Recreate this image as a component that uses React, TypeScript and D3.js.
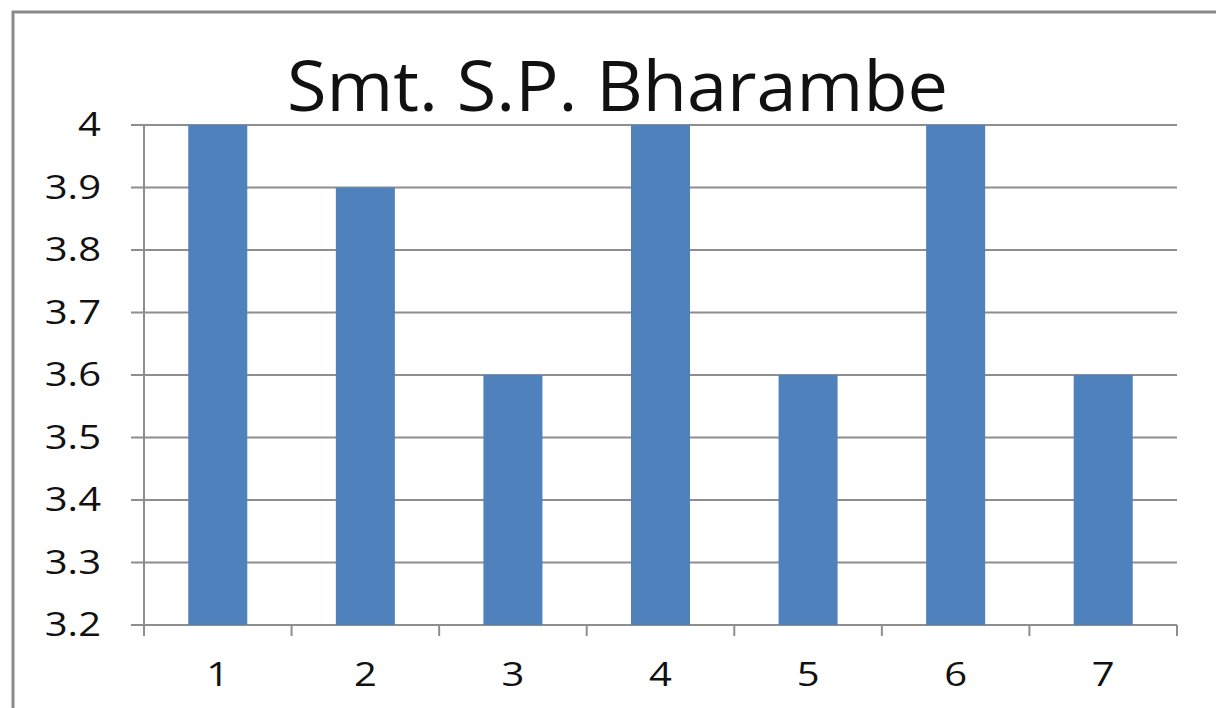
import React from "react";
import * as d3 from "d3";

const categories = ["1", "2", "3", "4", "5", "6", "7"];
const values = [4, 3.9, 3.6, 4, 3.6, 4, 3.6];
const yTicks = [3.2, 3.3, 3.4, 3.5, 3.6, 3.7, 3.8, 3.9, 4];
const title = "Smt. S.P. Bharambe";

export default function App() {
  const W = 1216, H = 708;
  const left = 144, right = 1177, top = 125, bottom = 625;
  const x = d3.scaleBand().domain(categories).range([left, right]).paddingInner(0.6).paddingOuter(0.3);
  const xOuter = d3.scaleBand().domain(categories).range([left, right]);
  const y = d3.scaleLinear().domain([3.2, 4]).range([bottom, top]);
  const grid = "#8e8e8e";
  const font = "'Open Sans', 'Noto Sans', sans-serif";
  const sx = 1.25;
  return (
    <svg width={W} height={H} style={{ position: "absolute", left: 0, top: 0 }}>
      <rect x={0} y={0} width={W} height={H} fill="#fff" />
      <rect x={13} y={12} width={W + 20} height={H + 20} fill="none" stroke="#8a8a8a" strokeWidth={3} />
      <text x={287} y={111} fontFamily={font} fontSize={69} fill="#111" textLength={661} lengthAdjust="spacingAndGlyphs">{title}</text>
      {yTicks.map((t) => (
        <g key={t}>
          <line x1={131} x2={right} y1={y(t)} y2={y(t)} stroke={grid} strokeWidth={2} />
          <g transform={`translate(101,${y(t) + 11}) scale(${sx},1)`}>
            <text x={0} y={0} textAnchor="end" fontFamily={font} fontSize={32} fill="#111">{t === 4 ? "4" : t.toFixed(1)}</text>
          </g>
        </g>
      ))}
      <line x1={left} x2={left} y1={top} y2={bottom + 11} stroke={grid} strokeWidth={2} />
      {categories.map((c) => (
        <line key={"t" + c} x1={xOuter(c)!} x2={xOuter(c)!} y1={bottom} y2={bottom + 11} stroke={grid} strokeWidth={2} />
      ))}
      <line x1={right} x2={right} y1={bottom} y2={bottom + 11} stroke={grid} strokeWidth={2} />
      {categories.map((c, i) => (
        <rect key={c} x={x(c)} y={y(values[i])} width={x.bandwidth()} height={bottom - y(values[i])} fill="#4F81BD" />
      ))}
      {categories.map((c) => (
        <g key={"l" + c} transform={`translate(${xOuter(c)! + xOuter.bandwidth() / 2},686) scale(${sx},1)`}>
          <text x={0} y={0} textAnchor="middle" fontFamily={font} fontSize={32} fill="#111">{c}</text>
        </g>
      ))}
    </svg>
  );
}
